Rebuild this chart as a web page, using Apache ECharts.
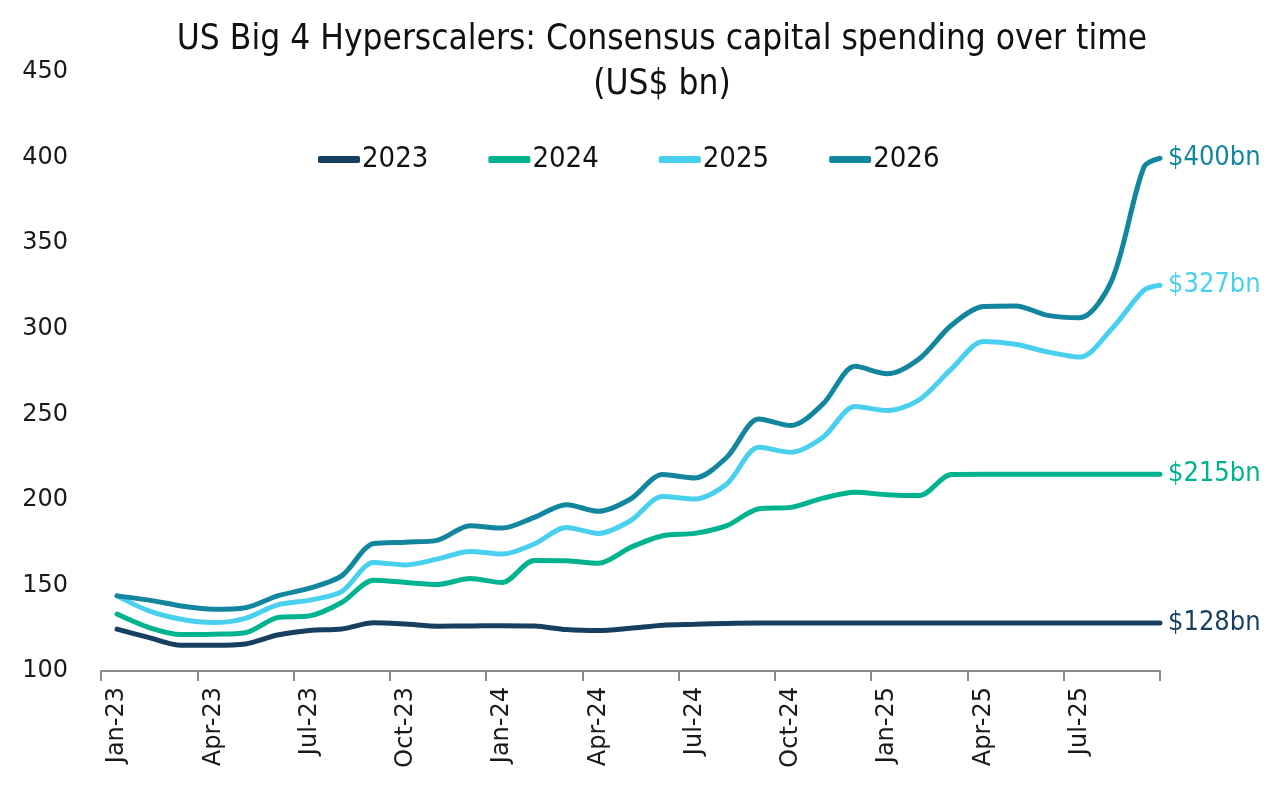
<!DOCTYPE html>
<html>
<head>
<meta charset="utf-8">
<script src="https://cdn.jsdelivr.net/npm/echarts@6/dist/echarts.min.js"></script>
<style>
html,body{margin:0;padding:0;background:#fff;}
#chart{width:1280px;height:798px;}
</style>
</head>
<body>
<div id="chart"></div>
<script>
// Monthly category labels (Jan-23 .. Sep-25)
var months = ['Jan-23','Feb-23','Mar-23','Apr-23','May-23','Jun-23','Jul-23','Aug-23','Sep-23','Oct-23','Nov-23','Dec-23',
              'Jan-24','Feb-24','Mar-24','Apr-24','May-24','Jun-24','Jul-24','Aug-24','Sep-24','Oct-24','Nov-24','Dec-24',
              'Jan-25','Feb-25','Mar-25','Apr-25','May-25','Jun-25','Jul-25','Aug-25','Sep-25'];
// Series names
var seriesNames = ['2023', '2024', '2025', '2026'];
// Consensus capex (US$ bn), one value per month, plus the latest reading at the end
var capex2023 = [124.5,119.5,115,115,115.8,121,123.7,124.5,128.2,127.4,126.2,126.3,
                 126.5,126.3,124.2,123.6,125,126.8,127.3,127.8,128,128,128,128,
                 128,128,128,128,128,128,128,128,128,128];
var capex2024 = [133.3,125.4,121.3,121.5,122.4,131.2,132.2,140,153,151.7,150.6,154,
                 151.7,164.6,164.4,163,172.2,179,180.4,184.9,194.8,195.6,201,204.4,
                 203,202.5,214.8,215,215,215,215,215,215,215];
var capex2025 = [143.9,135.1,130.2,128.3,130.8,138.6,141.4,146.4,163.4,162,165.5,169.8,
                 168.3,174.2,183.9,180.4,187.8,202,200.5,209.3,230.7,227.8,236.6,254.6,
                 252.2,258.5,276.5,292.5,290.9,286.4,283.4,300,322.5,325.4];
var capex2026 = [143.9,141.4,138,136.1,137,143.9,148.4,155.6,174.5,175.3,176.5,184.9,
                 183.5,189.8,197.2,193.3,200.5,214.8,212.8,224.9,247.2,243.4,256.1,278,
                 273.7,282.5,302,313,313.3,307.8,306.4,328.3,394.5,399.6];
// End-of-line labels
var endLabels = ['$128bn', '$215bn', '$327bn', '$400bn'];
var colors = ['#173f5f', '#00b38f', '#4ad0ef', '#12869f'];

// x position of each observation in months since Jan-23 (mid-month; last reading at axis end)
function positions(n) {
  var p = [];
  for (var i = 0; i < n - 1; i++) p.push(i + 0.5);
  p.push(months.length);
  return p;
}
var allValues = [capex2023, capex2024, capex2025, capex2026];

var chart = echarts.init(document.getElementById('chart'));
var condensed = '"DejaVu Sans Condensed", "Liberation Sans Narrow", sans-serif';
var regular = '"DejaVu Sans", sans-serif';

var series = allValues.map(function (vals, si) {
  var xs = positions(vals.length);
  return {
    name: seriesNames[si],
    type: 'line',
    xAxisIndex: 1,
    data: vals.map(function (v, i) { return [xs[i], v]; }),
    smooth: 0.3,
    symbol: 'none',
    color: colors[si],
    lineStyle: { width: 5, color: colors[si], cap: 'round' },
    endLabel: {
      show: true,
      formatter: function () { return endLabels[si]; },
      color: colors[si],
      fontSize: 27,
      fontFamily: condensed,
      distance: 8
    },
    z: 2 + si
  };
});

chart.setOption({
  animation: false,
  backgroundColor: '#ffffff',
  title: {
    text: 'US Big 4 Hyperscalers: Consensus capital spending over time\n(US$ bn)',
    left: 657,
    top: 12,
    textAlign: 'center',
    textStyle: { fontSize: 35, fontWeight: 'normal', fontFamily: condensed, color: '#111', lineHeight: 45 }
  },
  legend: {
    data: seriesNames,
    left: 313,
    top: 140,
    icon: 'roundRect',
    itemWidth: 42,
    itemHeight: 7,
    itemGap: 60,
    textStyle: { fontSize: 29, fontFamily: condensed, color: '#111', padding: [0, 0, 0, -3] }
  },
  grid: { left: 101, right: 120, top: 72, bottom: 127, containLabel: false },
  xAxis: [
    {
      type: 'category',
      data: months,
      boundaryGap: true,
      axisLine: { show: true, lineStyle: { color: '#8a8a8a', width: 2 } },
      axisTick: { show: true, interval: 2, length: 10, lineStyle: { color: '#8a8a8a', width: 2 } },
      axisLabel: { interval: 2, rotate: 90, margin: 16, fontSize: 24, fontFamily: regular, color: '#1a1a1a' },
      splitLine: { show: false }
    },
    { type: 'value', min: 0, max: months.length, show: false }
  ],
  yAxis: {
    type: 'value',
    min: 100,
    max: 450,
    interval: 50,
    axisLine: { show: false },
    axisTick: { show: false },
    splitLine: { show: false },
    axisLabel: { margin: 33, fontSize: 24, fontFamily: regular, color: '#1a1a1a' }
  },
  series: series
});
</script>
</body>
</html>
